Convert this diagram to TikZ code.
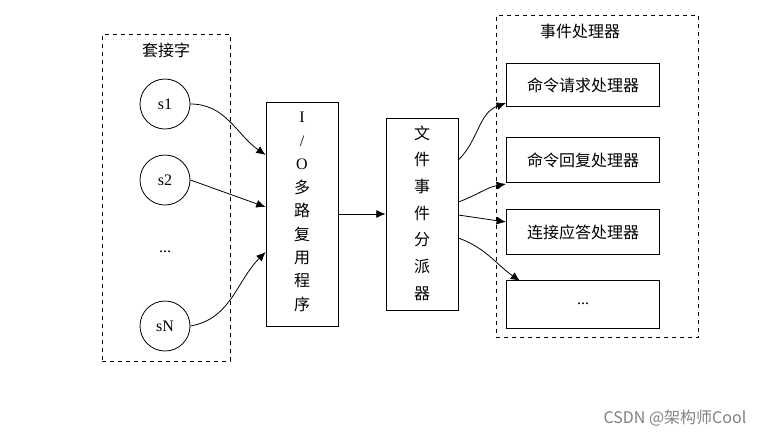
\documentclass[tikz,border=0pt]{standalone}
\usepackage{fontspec}
\setmainfont{Liberation Serif}
\newfontfamily\cjk{Noto Sans CJK SC}
\usetikzlibrary{arrows.meta}
\begin{document}
\begin{tikzpicture}[x=0.75pt,y=-0.75pt,
  dbox/.style={draw,dashed,semithick},
  box/.style={draw,semithick,inner sep=0},
  circ/.style={draw,semithick,circle,minimum size=37.5pt,inner sep=0,font=\large},
  arr/.style={-{Latex[length=7pt,width=6pt]},semithick},
  lbl/.style={font=\cjk\large}]
\useasboundingbox (0,0) rectangle (772,437);
\node[dbox,minimum width=96pt,minimum height=245pt] (L) at (166,198) {};
\node[lbl] (Ll) at (166,50) {套接字};
\node[circ] (s1) at (165,104) {s1};
\node[circ] (s2) at (165,180) {s2};
\node[font=\large] (dots) at (165,252) {...};
\node[circ] (sN) at (165,326) {sN};
\node[box,minimum width=54pt,minimum height=168pt] (io) at (302,214) {};
\node[align=center,font=\cjk\fontsize{12}{17.6}\selectfont,inner sep=0] (iot) at (302,212) {\fontspec{Liberation Serif}I\\\fontspec{Liberation Serif}/\\\fontspec{Liberation Serif}O\\多\\路\\复\\用\\程\\序};
\node[box,minimum width=54pt,minimum height=144pt] (fd) at (422,214) {};
\node[align=center,font=\cjk\fontsize{12}{20}\selectfont,inner sep=0] (fdt) at (422,213) {文\\件\\事\\件\\分\\派\\器};
\node[dbox,minimum width=151.5pt,minimum height=242pt] (R) at (597,176.5) {};
\node[lbl] (Rl) at (580,31) {事件处理器};
\node[box,minimum width=115pt,minimum height=32pt,lbl] (h1) at (583,85) {命令请求处理器};
\node[box,minimum width=115pt,minimum height=34pt,lbl] (h2) at (583,160) {命令回复处理器};
\node[box,minimum width=115pt,minimum height=34pt,lbl] (h3) at (583,232) {连接应答处理器};
\node[box,minimum width=115pt,minimum height=36pt,font=\large] (h4) at (583,304) {...};
\draw[arr] (s1.east) to[out=0,in=145] (io.north west |- 0,155);
\draw[arr] (s2.east) -- (io.west |- 0,207);
\draw[arr] (sN.east) to[out=10,in=225] (io.west |- 0,252);
\draw[arr] (io.east |- 0,214) -- (fd.west |- 0,214);
\draw[arr] (fd.east |- 0,160) to[out=45,in=200] (h1.south west |- 0,103);
\draw[arr] (fd.east |- 0,202) to[out=20,in=190] (h2.south west |- 0,184);
\draw[arr] (fd.east |- 0,215) -- (h3.west |- 0,222);
\draw[arr] (fd.east |- 0,238) to[out=-20,in=145] (520,281);
\node[font=\cjk\large,text=gray] (wm) at (675,418) {CSDN @架构师Cool};
\end{tikzpicture}
\end{document}
